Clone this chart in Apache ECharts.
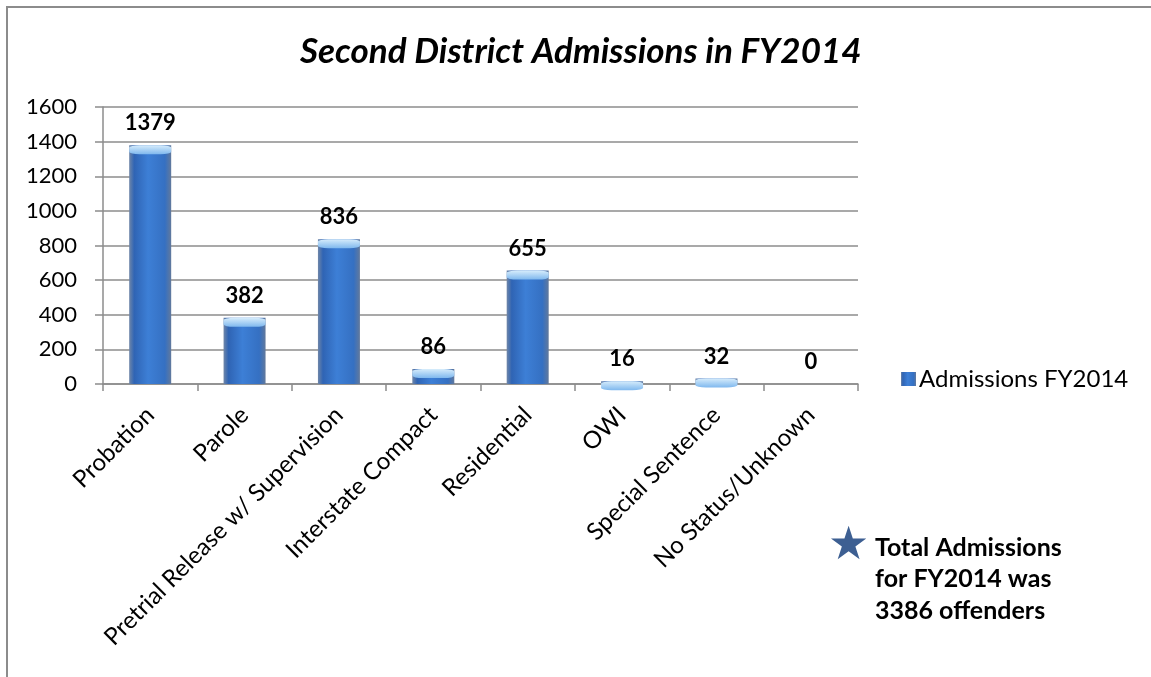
<!DOCTYPE html>
<html>
<head>
<meta charset="utf-8">
<script src="https://cdn.jsdelivr.net/npm/echarts@6/dist/echarts.min.js"></script>
<style>
html, body { margin: 0; padding: 0; background: #fff; }
#main { width: 1151px; height: 677px; }
</style>
</head>
<body>
<div id="main"></div>
<script>
var categories = ['Probation', 'Parole', 'Pretrial Release w/ Supervision', 'Interstate Compact',
  'Residential', 'OWI', 'Special Sentence', 'No Status/Unknown'];
var admissions = [1379, 382, 836, 86, 655, 16, 32, 0];
var yTicks = [0, 200, 400, 600, 800, 1000, 1200, 1400, 1600];
var noteLines = ['Total Admissions', 'for FY2014 was', '3386 offenders'];

var chart = echarts.init(document.getElementById('main'));

var barColor = new echarts.graphic.LinearGradient(0, 0, 1, 0, [
  { offset: 0, color: '#6f86a8' },
  { offset: 0.12, color: '#2f64b4' },
  { offset: 0.45, color: '#3d7fd6' },
  { offset: 0.85, color: '#3570c2' },
  { offset: 1, color: '#62799c' }
]);
var capColor = new echarts.graphic.LinearGradient(0, 0, 0, 1, [
  { offset: 0, color: '#d6ecfb' },
  { offset: 1, color: '#7fb8ee' }
]);

var option = {
  backgroundColor: '#fff',
  animation: false,
  title: {
    text: 'Second District Admissions in FY2014',
    left: 295,
    top: 29,
    textStyle: {
      fontFamily: 'Lato',
      fontSize: 35,
      fontWeight: 'bold',
      fontStyle: 'italic',
      color: '#000'
    }
  },
  legend: {
    data: ['Admissions FY2014'],
    left: 896,
    top: 362,
    icon: 'rect',
    itemWidth: 15,
    itemHeight: 14,
    itemGap: 4,
    textStyle: { fontFamily: 'Lato', fontSize: 24, color: '#000', padding: [0, 0, 0, -2] }
  },
  grid: { left: 103, top: 107, width: 755, height: 277, containLabel: false },
  xAxis: {
    type: 'category',
    data: categories,
    axisLine: { lineStyle: { color: '#8c8c8c', width: 1.5 } },
    axisTick: { show: true, length: 7, lineStyle: { color: '#8c8c8c', width: 1.5 } },
    axisLabel: {
      interval: 0,
      rotate: 45,
      margin: 27,
      fontFamily: 'Lato',
      fontSize: 24,
      color: '#000'
    }
  },
  yAxis: {
    type: 'value',
    min: yTicks[0],
    max: yTicks[yTicks.length - 1],
    interval: 200,
    axisLine: { show: true, lineStyle: { color: '#8c8c8c', width: 1.5 } },
    axisTick: { show: true, length: 8, lineStyle: { color: '#8c8c8c', width: 1.5 } },
    splitLine: { lineStyle: { color: '#8c8c8c', width: 1.5 } },
    axisLabel: {
      margin: 26,
      fontFamily: 'Lato',
      fontSize: 22,
      color: '#000',
      formatter: function (v) { return String(v); }
    }
  },
  series: [
    {
      name: 'Admissions FY2014',
      type: 'bar',
      data: admissions,
      barWidth: 42,
      itemStyle: { color: barColor },
      label: {
        show: true,
        position: 'top',
        distance: 11,
        fontFamily: 'Lato',
        fontSize: 22,
        fontWeight: 'bold',
        color: '#000'
      }
    },
    {
      name: 'cap',
      type: 'pictorialBar',
      data: admissions.map(function (v) { return v > 0 ? v : '-'; }),
      symbol: 'roundRect',
      symbolSize: [42, 9],
      symbolPosition: 'end',
      symbolOffset: [0, 0],
      barGap: '-100%',
      itemStyle: { color: capColor },
      z: 3,
      silent: true
    }
  ],
  graphic: [
    {
      type: 'rect',
      shape: { x: 7, y: 7, width: 1200, height: 720 },
      style: { fill: 'none', stroke: '#8c8c8c', lineWidth: 2 },
      silent: true
    },
    {
      type: 'text',
      left: 828,
      top: 524,
      style: { text: '★', font: '46px "DejaVu Sans"', fill: '#3d5f92' }
    },
    {
      type: 'text',
      left: 875,
      top: 532,
      style: {
        text: noteLines.join('\n'),
        font: 'bold 25px Lato',
        lineHeight: 31.5,
        fill: '#000'
      }
    }
  ]
};

chart.setOption(option);
</script>
</body>
</html>
